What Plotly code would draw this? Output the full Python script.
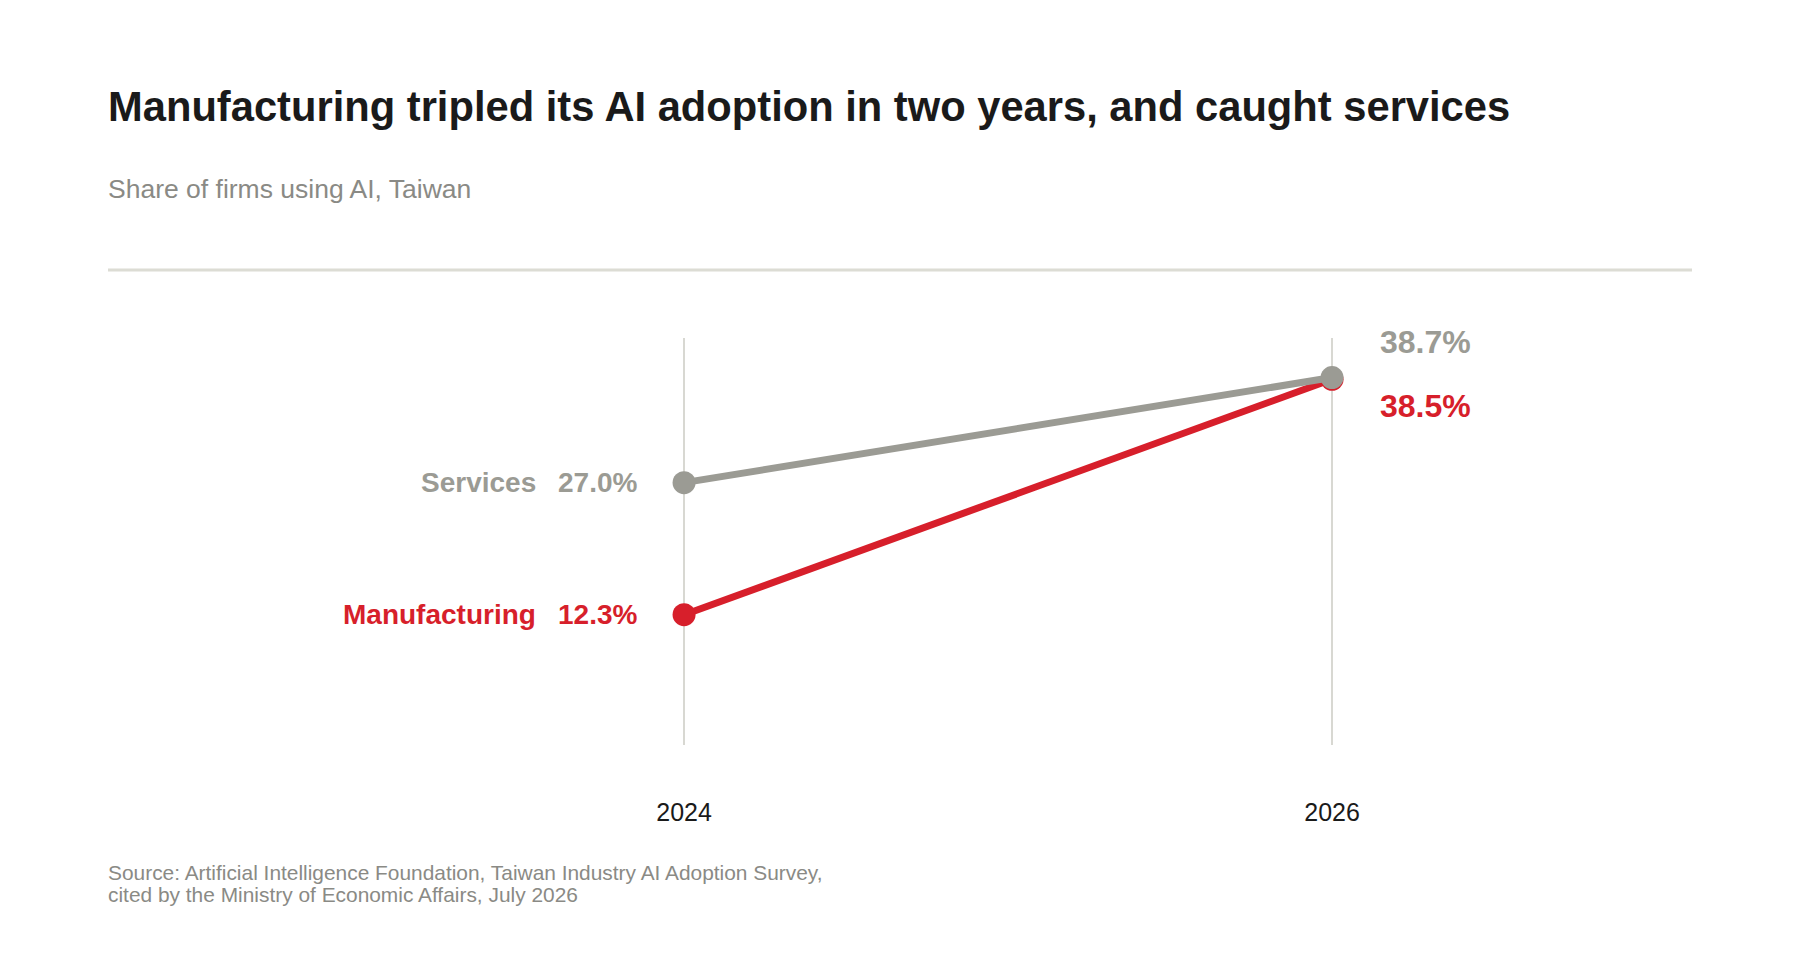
import plotly.graph_objects as go

# data
years = [2024, 2026]
services = [27.0, 38.7]
manufacturing = [12.3, 38.5]
series_names = ["Services", "Manufacturing"]
tick_labels = ["2024", "2026"]
source_lines = [
    "Source: Artificial Intelligence Foundation, Taiwan Industry AI Adoption Survey,",
    "cited by the Ministry of Economic Affairs, July 2026",
]

GRAY = "#9b9b94"
RED = "#d71f2b"
FONT = "Liberation Sans, Arial, sans-serif"

fig = go.Figure()

# manufacturing drawn first so services sits on top at the 2026 end
fig.add_trace(go.Scatter(
    x=years, y=manufacturing, mode="lines+markers",
    line=dict(color=RED, width=7),
    marker=dict(color=RED, size=23),
    name=series_names[1], showlegend=False, hoverinfo="skip",
))
fig.add_trace(go.Scatter(
    x=years, y=services, mode="lines+markers",
    line=dict(color=GRAY, width=7),
    marker=dict(color=GRAY, size=23),
    name=series_names[0], showlegend=False, hoverinfo="skip",
))

annotations = []
for name, vals, col in [(series_names[0], services, GRAY),
                        (series_names[1], manufacturing, RED)]:
    # left side: series name + start value
    annotations.append(dict(
        x=years[0], y=vals[0], xref="x", yref="y",
        text="<b>%.1f%%</b>" % vals[0], showarrow=False,
        xanchor="right", yanchor="middle", xshift=-45,
        font=dict(family=FONT, size=28, color=col),
    ))
    annotations.append(dict(
        x=years[0], y=vals[0], xref="x", yref="y",
        text="<b>%s</b>" % name, showarrow=False,
        xanchor="right", yanchor="middle", xshift=-146,
        font=dict(family=FONT, size=28, color=col),
    ))

# right side: end values (services above, manufacturing below)
annotations.append(dict(
    x=years[1], y=services[1], xref="x", yref="y",
    text="<b>%.1f%%</b>" % services[1], showarrow=False,
    xanchor="left", yanchor="middle", xshift=46, yshift=36,
    font=dict(family=FONT, size=32, color=GRAY),
))
annotations.append(dict(
    x=years[1], y=manufacturing[1], xref="x", yref="y",
    text="<b>%.1f%%</b>" % manufacturing[1], showarrow=False,
    xanchor="left", yanchor="middle", xshift=46, yshift=-27,
    font=dict(family=FONT, size=32, color=RED),
))

# subtitle
annotations.append(dict(
    x=0, y=1.366, xref="paper", yref="paper",
    text="Share of firms using AI, Taiwan", showarrow=False,
    xanchor="left", yanchor="middle", xshift=-2,
    font=dict(family=FONT, size=26.5, color="#8a8a85"),
))
# source, two tight lines
for line, yy in zip(source_lines, [-0.314, -0.3666]):
    annotations.append(dict(
        x=0, y=yy, xref="paper", yref="paper",
        text=line, showarrow=False, xanchor="left", yanchor="middle",
        xshift=-2,
        font=dict(family=FONT, size=20.9, color="#8a8a85"),
    ))

fig.update_layout(
    width=1800, height=960,
    paper_bgcolor="white", plot_bgcolor="white",
    margin=dict(l=100, r=116, t=330, b=223),
    title=dict(
        text="<b>Manufacturing tripled its AI adoption in two years, and caught services</b>",
        x=100 / 1800, xanchor="left", xref="container",
        y=1 - 98 / 960, yanchor="middle",
        font=dict(family=FONT, size=41.7, color="#1a1a1a"),
    ),
    annotations=annotations,
    shapes=[dict(
        type="line", xref="paper", yref="paper",
        x0=0, x1=1, y0=1.167, y1=1.167,
        line=dict(color="#dcdcd4", width=3),
    )],
    showlegend=False,
)

fig.update_xaxes(
    range=[2022.222, 2027.111],
    tickvals=years, ticktext=tick_labels,
    showgrid=True, gridcolor="#d8d8d2", gridwidth=2,
    zeroline=False, showline=False, ticks="",
    ticklabelstandoff=50,
    tickfont=dict(family=FONT, size=25, color="#1a1a1a"),
)
fig.update_yaxes(
    range=[-2.2, 43.1],
    showgrid=False, zeroline=False, showline=False,
    showticklabels=False, ticks="",
)

fig.write_html("out.html")
